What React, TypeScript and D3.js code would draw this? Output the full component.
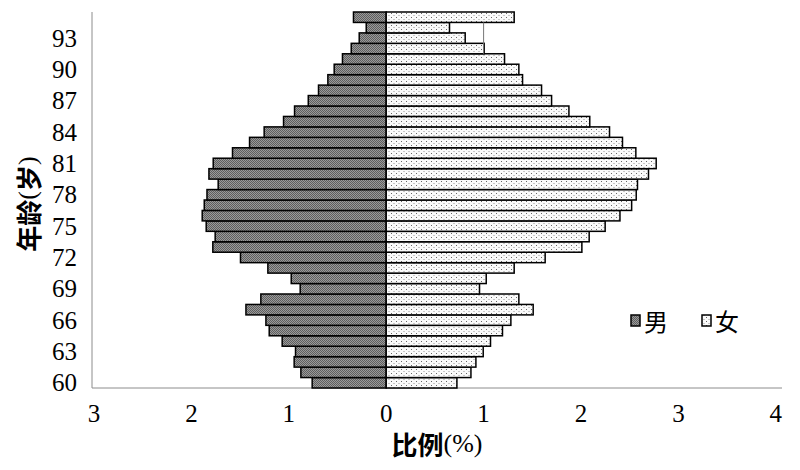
import React from "react";
import * as d3 from "d3";

const ages: number[] = Array.from({ length: 36 }, (_, i) => 60 + i);
// values listed from age 60 up to age 95
const maleValues: number[] = [
  0.76, 0.876, 0.945, 0.931, 1.068, 1.201, 1.235, 1.44, 1.287, 0.883,
  0.975, 1.215, 1.496, 1.78, 1.756, 1.848, 1.889, 1.868, 1.84, 1.725,
  1.82, 1.776, 1.578, 1.403, 1.253, 1.054, 0.941, 0.8, 0.695, 0.599,
  0.534, 0.449, 0.359, 0.277, 0.205, 0.336,
];
const femaleValues: number[] = [
  0.726, 0.87, 0.921, 0.996, 1.071, 1.194, 1.28, 1.509, 1.362, 0.958,
  1.027, 1.314, 1.632, 2.009, 2.084, 2.248, 2.4, 2.52, 2.567, 2.58,
  2.693, 2.772, 2.563, 2.426, 2.293, 2.09, 1.876, 1.698, 1.595, 1.4,
  1.362, 1.215, 1.006, 0.811, 0.65, 1.314,
];
const yTickAges: number[] = [60, 63, 66, 69, 72, 75, 78, 81, 84, 87, 90, 93];
const xTicks: number[] = [-3, -2, -1, 0, 1, 2, 3, 4];
const legendLabels: string[] = ["男", "女"];

const W = 800;
const H = 470;
const left = 92;
const top = 12;
const bottom = 388;

export default function App() {
  const x = d3.scaleLinear().domain([-3, 4]).range([94, 775.8]);
  const y = d3
    .scaleBand<number>()
    .domain(ages.slice().reverse())
    .range([top, bottom])
    .paddingInner(0)
    .paddingOuter(0);
  const bw = y.bandwidth();
  const serif = { fontFamily: "'Liberation Serif', 'Times New Roman', serif" };
  const cjkB = { fontFamily: "'Noto Sans CJK SC', sans-serif", fontWeight: 700 };
  const cjk = { fontFamily: "'Noto Sans CJK SC', sans-serif", fontWeight: 400 };

  return (
    <svg
      width={W}
      height={H}
      style={{ position: "absolute", left: 0, top: 0, background: "#fff" }}
    >
      <defs>
        <pattern id="maleP" width="2" height="2" patternUnits="userSpaceOnUse">
          <rect width="2" height="2" fill="#9a9a9a" />
          <rect width="1" height="1" fill="#5e5e5e" />
          <rect x="1" y="1" width="1" height="1" fill="#5e5e5e" />
        </pattern>
        <pattern id="femaleP" width="5" height="4" patternUnits="userSpaceOnUse">
          <rect width="5" height="4" fill="#fafafa" />
          <rect x="1" y="1" width="1" height="1" fill="#666" />
          <rect x="3.5" y="3" width="1" height="1" fill="#999" />
        </pattern>
      </defs>

      {/* axes */}
      <line x1={left} y1={top} x2={left} y2={bottom} stroke="#8c8c8c" strokeWidth={1} />
      <line x1={left} y1={bottom} x2={782} y2={bottom} stroke="#8c8c8c" strokeWidth={1} />

      {/* male bars */}
      {ages.map((a, i) => (
        <rect
          key={"m" + a}
          x={x(-maleValues[i])}
          y={y(a)!}
          width={x(0) - x(-maleValues[i])}
          height={bw}
          fill="url(#maleP)"
          stroke="#000"
          strokeWidth={1.5}
        />
      ))}
      {/* female bars */}
      {ages.map((a, i) => (
        <rect
          key={"f" + a}
          x={x(0)}
          y={y(a)!}
          width={x(femaleValues[i]) - x(0)}
          height={bw}
          fill="url(#femaleP)"
          stroke="#000"
          strokeWidth={1.5}
        />
      ))}

      {/* stray thin line near x=1 */}
      <line
        x1={x(1)}
        x2={x(1)}
        y1={y(94)!}
        y2={y(92)! + bw}
        stroke="#777"
        strokeWidth={1}
      />

      {/* y tick labels */}
      {yTickAges.map((a) => (
        <text
          key={"yt" + a}
          x={77}
          y={y(a)! + bw / 2}
          textAnchor="end"
          dominantBaseline="central"
          style={{ ...serif, fontSize: 25 }}
          fill="#000"
        >
          {a}
        </text>
      ))}

      {/* x tick labels */}
      {xTicks.map((t) => (
        <text
          key={"xt" + t}
          x={x(t)}
          y={413}
          textAnchor="middle"
          dominantBaseline="central"
          style={{ ...serif, fontSize: 25 }}
          fill="#000"
        >
          {Math.abs(t)}
        </text>
      ))}

      {/* x title */}
      <text x={437} y={443} textAnchor="middle" dominantBaseline="central" style={{ fontSize: 26 }} fill="#000">
        <tspan style={cjkB}>比例</tspan>
        <tspan style={serif}>(%)</tspan>
      </text>

      {/* y title */}
      <text
        transform="translate(27,204) rotate(-90)"
        textAnchor="middle"
        dominantBaseline="central"
        style={{ fontSize: 26 }}
        fill="#000"
      >
        <tspan style={cjkB}>年龄</tspan>
        <tspan style={serif}>(</tspan>
        <tspan style={cjkB}>岁</tspan>
        <tspan style={serif}>)</tspan>
      </text>

      {/* legend */}
      <rect x={631} y={315} width={9} height={11} fill="url(#maleP)" stroke="#000" strokeWidth={1.5} />
      <text x={644} y={320} dominantBaseline="central" style={{ ...cjk, fontSize: 24 }} fill="#000">
        {legendLabels[0]}
      </text>
      <rect x={702} y={315} width={9} height={11} fill="url(#femaleP)" stroke="#000" strokeWidth={1.5} />
      <text x={715} y={320} dominantBaseline="central" style={{ ...cjk, fontSize: 24 }} fill="#000">
        {legendLabels[1]}
      </text>
    </svg>
  );
}
